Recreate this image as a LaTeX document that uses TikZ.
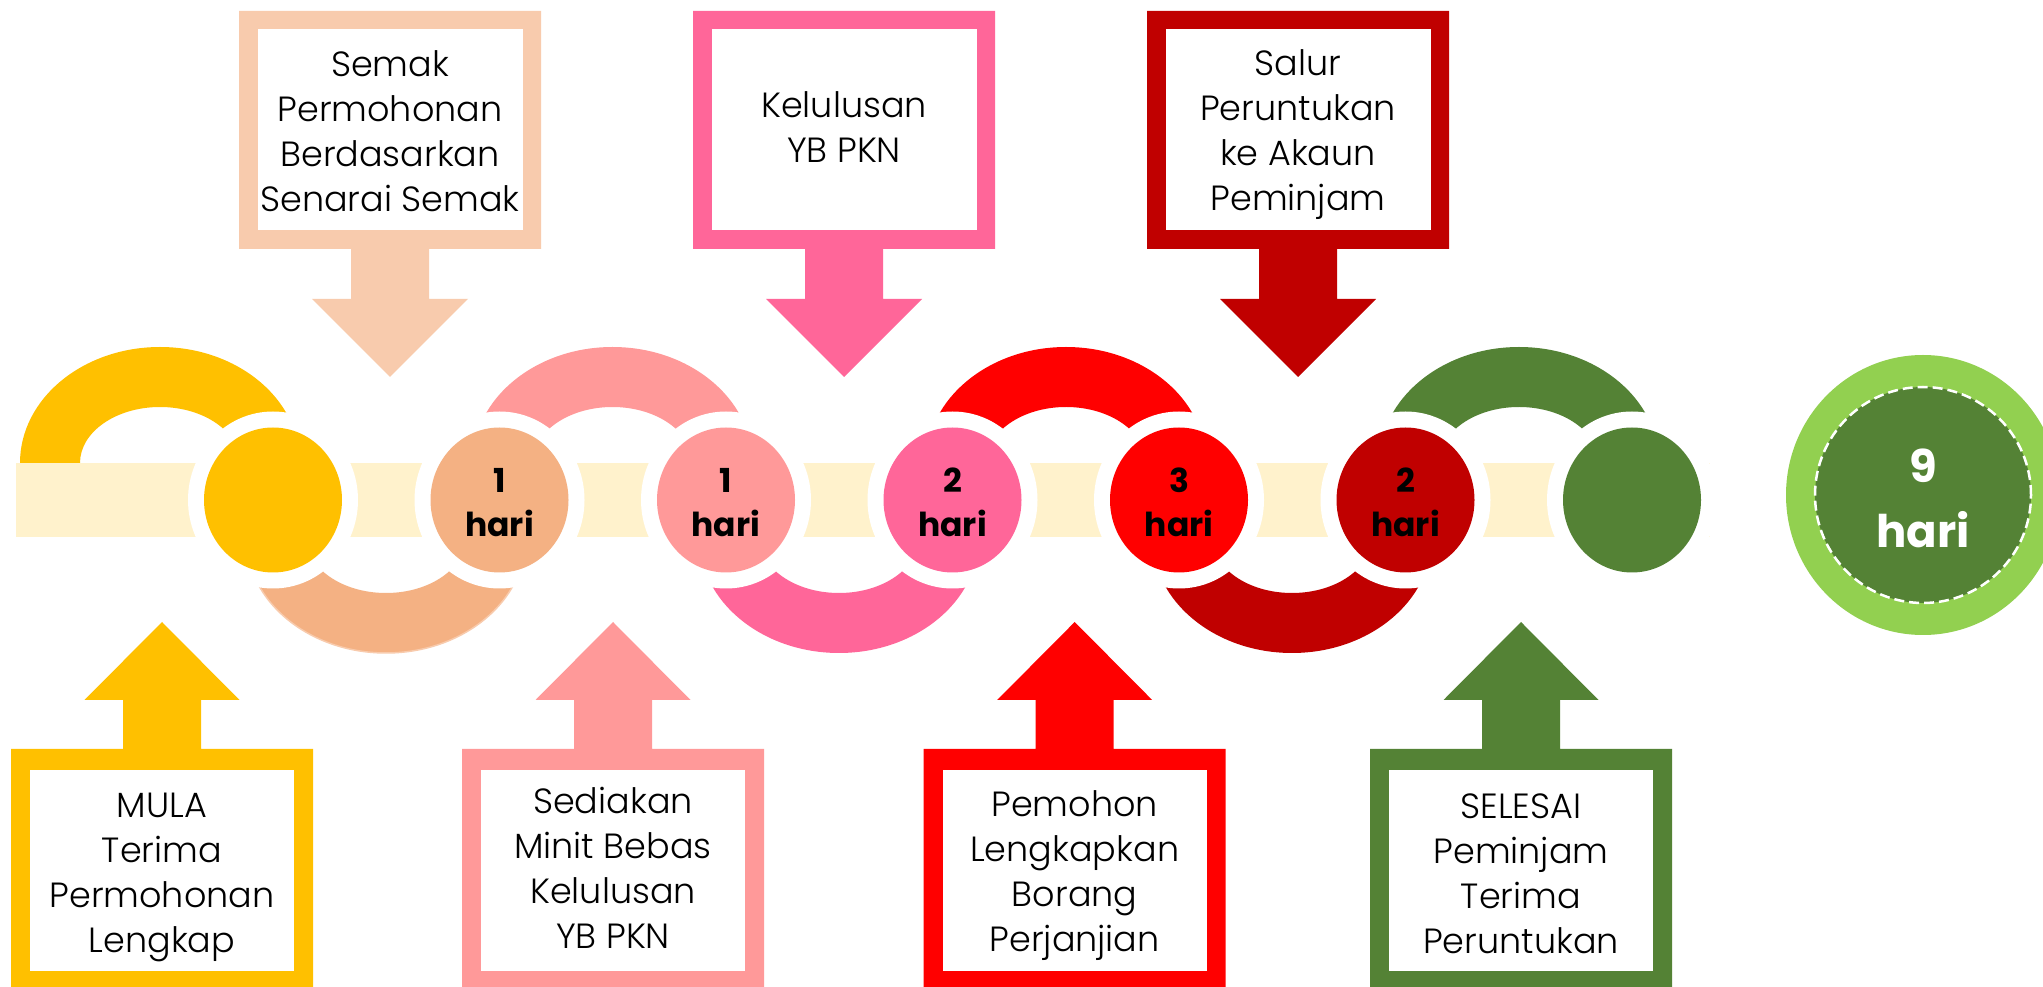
\documentclass[tikz,border=0pt]{standalone}
\usepackage{fontspec}
\setmainfont{Poppins}[UprightFont={* Light},BoldFont={* Bold}]
\definecolor{cYellow}{HTML}{FFC000}
\definecolor{cPeach}{HTML}{F4B183}
\definecolor{cPeachLight}{HTML}{F8CBAD}
\definecolor{cLightPink}{HTML}{FF9999}
\definecolor{cHotPink}{HTML}{FF6699}
\definecolor{cRed}{HTML}{FF0000}
\definecolor{cDarkRed}{HTML}{C00000}
\definecolor{cGreen}{HTML}{548235}
\definecolor{cLightGreen}{HTML}{92D050}
\definecolor{cBand}{HTML}{FFF2CC}
\newcommand\upperring[2]{\fill[#2] (#1-140,523) arc[start angle=180,end angle=0,x radius=140,y radius=116] -- (#1+80,523) arc[start angle=0,end angle=180,x radius=80,y radius=56] -- cycle;}
\newcommand\lowerring[2]{\fill[#2] (#1-140,449) arc[start angle=180,end angle=360,x radius=140,y radius=116] -- (#1+80,449) arc[start angle=360,end angle=180,x radius=80,y radius=56] -- cycle;}
\newcommand\dayoval[2]{\fill[white] (#1,486) ellipse[x radius=85,y radius=88.5];
  \fill[#2] (#1,486) ellipse[x radius=69,y radius=72.5];}
\newcommand\topcallout[2]{\fill[#2] (#1-151,975) -- (#1+151,975) -- (#1+151,737) -- (#1+39,737) -- (#1+39,687) -- (#1+78,687) -- (#1,609) -- (#1-78,687) -- (#1-39,687) -- (#1-39,737) -- (#1-151,737) -- cycle;
  \fill[white] (#1-132.5,957) rectangle (#1+132.5,756);}
\newcommand\bottomcallout[2]{\fill[#2] (#1-151,-10) -- (#1-151,237) -- (#1-39,237) -- (#1-39,286) -- (#1-77.5,286) -- (#1,364) -- (#1+77.5,286) -- (#1+39,286) -- (#1+39,237) -- (#1+151,237) -- (#1+151,-10) -- cycle;
  \fill[white] (#1-132,15) rectangle (#1+132,216);}
\begin{document}
\begin{tikzpicture}[x=1pt,y=1pt,
  boxtext/.style={align=center, anchor=base, inner sep=0pt, font=\fontsize{35}{45}\selectfont},
  daytext/.style={align=center, anchor=base, inner sep=0pt, font=\bfseries\fontsize{33}{44}\selectfont},
  totaltext/.style={align=center, anchor=base, inner sep=0pt, text=white, font=\bfseries\fontsize{45}{65}\selectfont}]
\useasboundingbox (0,0) rectangle (2043,986);
\clip (0,0) rectangle (2043,986);
\fill[white] (0,0) rectangle (2043,986);
% band
\fill[cBand] (16,449) rectangle (1710,523);
% arcs
\upperring{160}{cYellow}
\lowerring{386}{cPeach}
\draw[cPeachLight, line width=1.5] (386-140,449) arc[start angle=180,end angle=360,x radius=140,y radius=116];
\upperring{612.5}{cLightPink}
\lowerring{839}{cHotPink}
\upperring{1066}{cRed}
\lowerring{1292}{cDarkRed}
\upperring{1519}{cGreen}
% ovals
\dayoval{273}{cYellow}
\dayoval{499.5}{cPeach}
\dayoval{726}{cLightPink}
\dayoval{952.5}{cHotPink}
\dayoval{1179}{cRed}
\dayoval{1405.5}{cDarkRed}
\dayoval{1632}{cGreen}
\node[daytext] (d1) at (499.5,449) {1\\hari};
\node[daytext] (d2) at (726,449) {1\\hari};
\node[daytext] (d3) at (952.5,449) {2\\hari};
\node[daytext] (d4) at (1179,449) {3\\hari};
\node[daytext] (d5) at (1405.5,449) {2\\hari};
% total
\fill[cLightGreen] (1923,491) ellipse[x radius=137,y radius=140];
\fill[cGreen] (1923,491) circle[radius=108];
\draw[white, line width=2.5, dash pattern=on 10pt off 5pt] (1923,491) circle[radius=108];
\node[totaltext] (total) at (1923,438) {9\\hari};
% top callouts
\topcallout{390}{cPeachLight}
\topcallout{844}{cHotPink}
\topcallout{1298}{cDarkRed}
\node[boxtext] (semak) at (390,774.3) {Semak\\Permohonan\\Berdasarkan\\Senarai Semak};
\node[boxtext] (lulus) at (844,823) {Kelulusan\\YB PKN};
\node[boxtext] (salur) at (1298,775.3) {Salur\\Peruntukan\\ke Akaun\\Peminjam};
% bottom callouts
\bottomcallout{162}{cYellow}
\bottomcallout{613}{cLightPink}
\bottomcallout{1074.7}{cRed}
\bottomcallout{1521}{cGreen}
\node[boxtext] (mula) at (162,33.3) {MULA\\Terima\\Permohonan\\Lengkap};
\node[boxtext] (minit) at (613,37.7) {Sediakan\\Minit Bebas\\Kelulusan\\YB PKN};
\node[boxtext] (borang) at (1074.7,34.3) {Pemohon\\Lengkapkan\\Borang\\Perjanjian};
\node[boxtext] (selesai) at (1521,33) {SELESAI\\Peminjam\\Terima\\Peruntukan};
\end{tikzpicture}
\end{document}
